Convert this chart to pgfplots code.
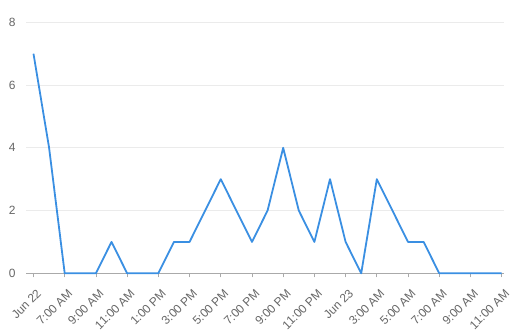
\documentclass[border=0pt]{standalone}
\usepackage{pgfplots}
\pgfplotsset{compat=1.18}
\usepackage{fontspec}
\setmainfont{Liberation Sans}
\definecolor{linec}{HTML}{3A8FE2}
\definecolor{gridc}{HTML}{EBEBEB}
\definecolor{axisc}{HTML}{AAAAAA}
\definecolor{textc}{HTML}{666666}
\begin{document}
\begin{tikzpicture}
\useasboundingbox (-26bp,-60.7bp) rectangle (491bp,273.3bp);
\begin{axis}[
  at={(0,0)}, anchor=south west,
  scale only axis,
  width=478bp, height=251bp,
  xmin=-0.48, xmax=30.15,
  ymin=0, ymax=8,
  ytick={0,2,4,6,8},
  xtick={0,2,...,30},
  xticklabels={Jun 22,7:00 AM,9:00 AM,11:00 AM,1:00 PM,3:00 PM,5:00 PM,7:00 PM,9:00 PM,11:00 PM,Jun 23,3:00 AM,5:00 AM,7:00 AM,9:00 AM,11:00 AM},
  axis x line*=bottom, axis y line*=left,
  y axis line style={draw=none},
  x axis line style={draw=axisc,-},
  ymajorgrids, grid style={gridc, line width=0.8bp},
  major tick length=4bp,
  tick align=outside,
  xtick style={draw=axisc, line width=0.8bp},
  ytick style={draw=none},
  tick label style={font=\fontsize{12}{14}\selectfont, text=textc},
  xticklabel style={rotate=45, anchor=east, inner sep=1bp, yshift=-14bp, xshift=-5bp},
  yticklabel style={xshift=-3bp},
  /pgf/number format/assume math mode=true,
  clip=false,
]
\addplot[linec, line width=1.8bp, line join=round] coordinates {
(0,7) (1,4) (2,0) (3,0) (4,0) (5,1) (6,0) (7,0) (8,0) (9,1)
(10,1) (11,2) (12,3) (13,2) (14,1) (15,2) (16,4) (17,2) (18,1) (19,3)
(20,1) (21,0) (22,3) (23,2) (24,1) (25,1) (26,0) (27,0) (28,0) (29,0) (30,0)
};
\end{axis}
\end{tikzpicture}
\end{document}
